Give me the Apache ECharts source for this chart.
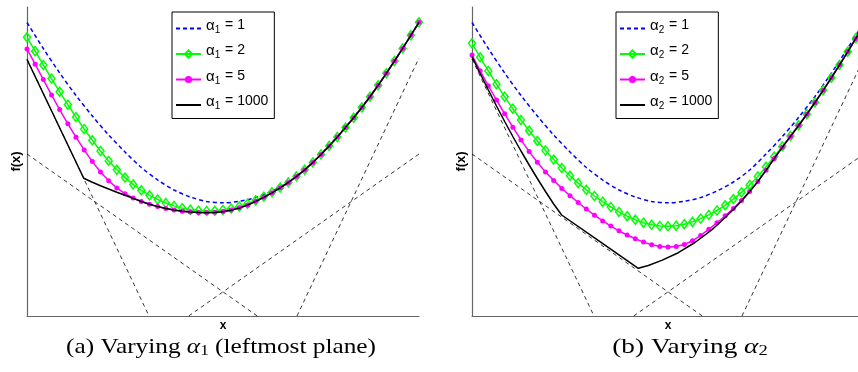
<!DOCTYPE html>
<html><head><meta charset="utf-8">
<script src="https://cdn.jsdelivr.net/npm/echarts@6/dist/echarts.min.js"></script>
<style>html,body{margin:0;padding:0;background:#fff}#c{width:858px;height:372px}</style>
</head><body><div id="c"></div>
<script>
// marker positions (sample index along x)
const xIdx = [0,1,2,3,4,5,6,7,8,9,10,11,12,13,14,15,16,17,18,19,20,21,22,23,24,25,26,27,28,29,30,31,32,33,34,35,36,37,38,39,40,41,42,43,44,45,46,47,48];
const blueX = [0,2,4,6,8,10,12,14,16,18,20,22,24,26,28,30,32,34,36,38,40,42,44,46,48];
// alpha = 1 (same curve in both panels)
const blueY = [293.5,267.5,243,220.5,200,181,164,148.5,136,126,119,114.5,113.2,114.7,118.5,125,134,146,162,179.4,198.7,219.5,242.8,267.7,293.7];

// panel (a): varying alpha_1
const greenA = [278.7,264.8,251.0,237.4,224.2,211.3,198.9,187.0,175.7,165.0,155.1,146.2,138.4,131.6,125.7,120.7,116.5,113.0,110.1,107.9,106.3,105.4,105.0,105.2,106.0,107.4,109.5,112.3,115.6,119.4,123.7,128.4,133.6,139.7,146.2,153.6,161.6,170.1,179.0,188.4,198.2,208.5,219.3,230.7,242.7,255.0,267.6,280.7,293.7];
const magentaA = [267.0,251.8,236.4,221.1,206.4,192.2,178.8,166.1,154.4,144.0,135.2,128.1,122.3,118.0,114.6,111.8,109.4,107.5,106.0,104.8,104.0,103.5,103.4,103.7,104.5,106.0,108.2,111.0,114.7,118.8,123.3,128.2,133.5,139.6,146.1,153.5,161.5,170.0,179.0,188.4,198.2,208.5,219.3,230.7,242.7,255.0,267.6,280.7,293.7];
const blackAX = [0,6.95,8,9,10,11,12,13,14,15,16,17,18,19,20,21,22,23,24,25,26,27,28,29,30,31,32,33,34,35,36,37,38,39,40,41,42,43,44,45,46,47,48];
const blackAY = [256.5,137.7,133.7,130.2,127.0,123.8,120.8,117.6,114.5,111.8,109.4,107.5,105.9,104.7,103.9,103.4,103.3,103.6,104.3,105.7,107.9,110.9,114.6,118.7,123.2,128.1,133.5,139.6,146.1,153.5,161.5,170.0,179.0,188.4,198.2,208.5,219.3,230.7,242.7,255.0,267.6,280.7,293.7];

// panel (b): varying alpha_2
const greenB = [272.7,258.7,245.0,231.8,219.2,207.3,196.0,185.3,175.1,165.5,156.4,148.0,140.2,132.9,126.2,120.0,114.3,109.0,104.1,99.8,96.2,93.3,91.2,90.0,89.7,90.3,91.8,94.2,97.4,101.1,105.5,110.7,116.9,123.6,131.1,139.5,149.2,159.3,169.6,180.0,190.7,201.8,213.6,225.8,238.3,251.1,264.3,277.7,291.4];
const magentaB = [261.0,245.2,230.2,216.0,202.2,188.8,176.1,164.4,153.7,144.1,135.5,127.6,120.3,113.5,107.0,100.8,95.1,89.9,85.2,81.0,77.2,73.9,71.3,69.6,68.9,69.5,71.5,75.2,80.6,86.7,93.3,100.3,107.6,115.5,124.4,134.4,145.7,157.4,168.7,179.6,190.5,201.7,213.5,225.7,238.2,251.0,264.2,277.6,291.3];
const blackBX = [0,1,2,3,4,5,6,7,8,9,10,10.98,15.67,20.36,21.59,23.23,25.26,27.3,29.35,31,32,33,34,35,36,37,38,39,40,41,42,43,44,45,46,47,48];
const blackBY = [259.3,242.5,226,210,194.5,179.5,165,151,137.5,124.5,112,101,74.3,47.7,50.5,55.6,63.3,73.5,86,98.5,106.5,115.0,124.4,134.4,145.7,157.4,168.7,179.6,190.5,201.7,213.5,225.7,238.2,251.0,264.2,277.6,291.3];

// the four planes (dashed), same in both panels
const plane1X = [0, 14.94], plane1Y = [257, 0];
const plane2X = [0, 28.2],  plane2Y = [162, 0];
const plane3X = [19.8, 48], plane3Y = [0, 162];
const plane4X = [33.06, 48], plane4Y = [0, 258];

const legendValues = ['1', '2', '5', '1000'];

const pairs = (xs, ys) => xs.map((x, i) => [x, ys[i]]);

const SANS = 'Liberation Sans';
const SERIF = 'Liberation Serif';
const CLEAR = 'rgba(0,0,0,0)';

function panelSeries(p, green, magenta, bx, by, sub) {
  const s = [];
  [[plane1X, plane1Y], [plane2X, plane2Y], [plane3X, plane3Y], [plane4X, plane4Y]].forEach(pl => {
    s.push({type: 'line', xAxisIndex: p, yAxisIndex: p, data: pairs(pl[0], pl[1]), symbol: 'none', silent: true,
      lineStyle: {color: '#000', width: 0.8, type: [4, 3.5]}, z: 1});
  });
  const nm = v => 'α' + sub + ' = ' + v;
  s.push({type: 'line', name: nm('1'), xAxisIndex: p, yAxisIndex: p, data: pairs(blueX, blueY), symbol: 'none', smooth: 0.3,
    lineStyle: {color: '#0000ff', width: 1.5, type: [4, 3]}, itemStyle: {color: CLEAR}, z: 2});
  s.push({type: 'line', name: nm('2'), xAxisIndex: p, yAxisIndex: p, data: pairs(xIdx, green), symbol: 'diamond', symbolSize: [7, 9],
    lineStyle: {color: '#00ff00', width: 1.5}, itemStyle: {color: CLEAR, borderColor: '#00ff00', borderWidth: 1.5}, z: 3});
  s.push({type: 'line', name: nm('5'), xAxisIndex: p, yAxisIndex: p, data: pairs(xIdx, magenta), symbol: 'circle', symbolSize: 5,
    lineStyle: {color: '#ff00ff', width: 1.5}, itemStyle: {color: '#ff00ff', borderWidth: 0}, z: 4});
  s.push({type: 'line', name: nm('1000'), xAxisIndex: p, yAxisIndex: p, data: pairs(bx, by), symbol: 'none',
    lineStyle: {color: '#000', width: 1.5}, itemStyle: {color: CLEAR}, z: 5});
  return s;
}

const axisBase = {
  axisLine: {show: true, onZero: false, lineStyle: {color: '#666', width: 1.2}},
  axisTick: {show: false}, axisLabel: {show: false}, splitLine: {show: false}
};

function legendFor(left, sub) {
  return {
    left: left, top: 12, orient: 'vertical', selectedMode: false,
    backgroundColor: '#fff', borderColor: '#000', borderWidth: 1, borderRadius: 0,
    padding: [6, 6, 7, 3], itemGap: 8.5, itemWidth: 25, itemHeight: 9,
    data: legendValues.map(v => 'α' + sub + ' = ' + v),
    formatter: name => '{a|α}{s|' + sub + '}{t|' + name.slice(2) + '}',
    textStyle: {color: '#000', rich: {
      a: {fontFamily: SANS, fontSize: 15, color: '#000', verticalAlign: 'top'},
      s: {fontFamily: SANS, fontSize: 10, color: '#000', padding: [7, 1, 4, 0], verticalAlign: 'bottom'},
      t: {fontFamily: SANS, fontSize: 14, color: '#000', verticalAlign: 'top'}
    }}
  };
}

const capRich = {i: {fontFamily: SERIF, fontSize: 22, fontStyle: 'italic'}, s: {fontFamily: SERIF, fontSize: 15, padding: [8, 0, 0, 0]}};

const chart = echarts.init(document.getElementById('c'), null, {renderer: 'canvas'});
chart.setOption({
  animation: false,
  backgroundColor: '#fff',
  grid: [
    {left: 27, top: 7, width: 392, height: 309, outerBoundsMode: 'none'},
    {left: 472, top: 7, width: 392, height: 309, outerBoundsMode: 'none'}
  ],
  xAxis: [0, 1].map(i => Object.assign({type: 'value', gridIndex: i, min: 0, max: 48,
    name: 'x', nameLocation: 'middle', nameGap: 4,
    nameTextStyle: {fontFamily: SANS, fontWeight: 'bold', fontSize: 12, color: '#000'}}, axisBase)),
  yAxis: [0, 1].map(i => Object.assign({type: 'value', gridIndex: i, min: 0, max: 309,
    name: 'f(x)', nameLocation: 'middle', nameGap: 4,
    nameTextStyle: {fontFamily: SANS, fontWeight: 'bold', fontSize: 13, color: '#000'}}, axisBase)),
  legend: [legendFor(172, '1'), legendFor(616, '2')],
  series: panelSeries(0, greenA, magentaA, blackAX, blackAY, '1').concat(panelSeries(1, greenB, magentaB, blackBX, blackBY, '2')),
  graphic: [
    {type: 'text', x: 221, y: 347, scaleX: 1.15, style: {text: '(a) Varying {i|α}{s|1} (leftmost plane)', fontFamily: SERIF, fontSize: 22, fill: '#000',
      align: 'center', verticalAlign: 'middle', rich: capRich}},
    {type: 'text', x: 690, y: 347, scaleX: 1.24, style: {text: '(b) Varying {i|α}{s|2}', fontFamily: SERIF, fontSize: 22, fill: '#000',
      align: 'center', verticalAlign: 'middle', rich: capRich}}
  ]
});
</script></body></html>
